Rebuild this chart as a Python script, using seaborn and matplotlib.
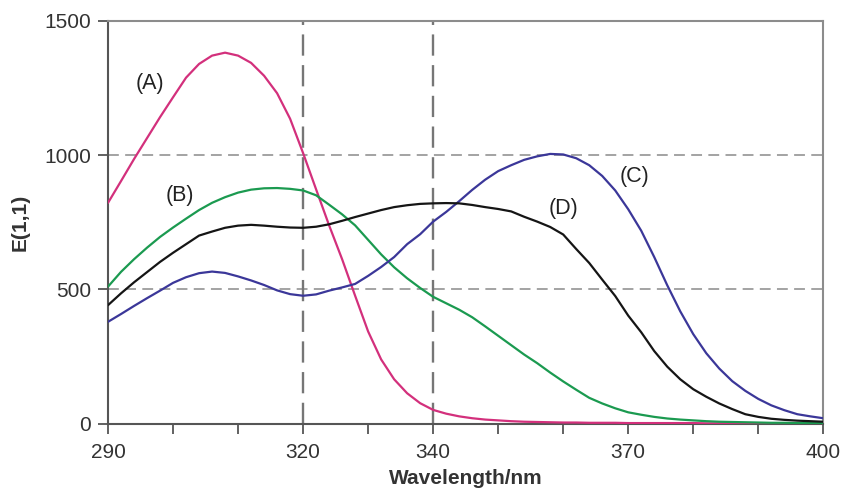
import matplotlib
matplotlib.use("Agg")
import matplotlib.pyplot as plt
import pandas as pd
import seaborn as sns

# Absorption spectra E(1,1) sampled every 2 nm from 290 to 400 nm
wavelength = list(range(290, 401, 2))

curve_a = [822, 903, 985, 1063, 1141, 1215, 1288, 1339, 1370, 1381,
           1370, 1343, 1295, 1230, 1135, 1007, 872, 738, 612, 476,
           343, 239, 165, 113, 76, 51, 37, 27, 20, 15,
           12, 9, 7, 6, 5, 4, 4, 3, 3, 3,
           2, 2, 2, 2, 2, 2, 1, 1, 1, 1,
           1, 1, 1, 1, 1, 1]

curve_b = [510, 565, 612, 655, 695, 730, 763, 795, 822, 843,
           860, 871, 876, 877, 874, 868, 850, 815, 779, 738,
           684, 630, 582, 541, 505, 472, 448, 424, 396, 362,
           327, 292, 257, 225, 190, 157, 126, 96, 75, 57,
           42, 33, 25, 19, 15, 12, 9, 7, 6, 5,
           4, 3, 3, 2, 2, 2]

curve_c = [379, 408, 438, 467, 495, 524, 545, 560, 566, 561,
           548, 533, 516, 496, 482, 476, 481, 495, 507, 520,
           550, 583, 620, 668, 705, 752, 788, 828, 870, 908,
           940, 962, 982, 995, 1004, 1002, 988, 962, 922, 868,
           798, 718, 620, 515, 418, 333, 262, 205, 158, 122,
           92, 68, 50, 35, 27, 20]

curve_d = [441, 485, 526, 564, 602, 636, 668, 700, 715, 729,
           737, 740, 737, 733, 730, 729, 733, 742, 755, 769,
           782, 795, 806, 813, 818, 820, 821, 820, 814, 806,
           799, 790, 770, 752, 732, 704, 650, 598, 536, 475,
           402, 340, 270, 212, 165, 128, 100, 75, 54, 35,
           25, 18, 14, 11, 9, 7]

series_names = ["(A)", "(B)", "(C)", "(D)"]
series_colors = ["#d3307c", "#1b9a50", "#3b3799", "#151515"]

x_ticks = list(range(290, 401, 10))
x_labelled = [290, 320, 340, 370, 400]
y_ticks = [0, 500, 1000, 1500]
ref_wavelengths = [320, 340]
ref_levels = [500, 1000]

frames = []
for name, values in zip(series_names, [curve_a, curve_b, curve_c, curve_d]):
    frames.append(pd.DataFrame({"wavelength": wavelength, "E": values, "series": name}))
spectra = pd.concat(frames, ignore_index=True)

sns.set_theme(style="white")
plt.rcParams["font.family"] = ["Liberation Sans", "DejaVu Sans"]

fig = plt.figure(figsize=(8.42, 4.94), dpi=100)
ax = fig.add_axes([0.1283, 0.1425, 0.8495, 0.8156])

# Reference lines behind the spectra
for level in ref_levels:
    ax.axhline(level, color="#9c9c9c", linewidth=1.3, linestyle=(0, (6, 3.5)), zorder=1)
for wl in ref_wavelengths:
    ax.axvline(wl, color="#767676", linewidth=1.7, linestyle=(0, (9, 4)), zorder=1)

sns.lineplot(
    data=spectra, x="wavelength", y="E", hue="series",
    palette=dict(zip(series_names, series_colors)),
    estimator=None, linewidth=1.6, legend=False, ax=ax, zorder=3,
)

ax.set_xlim(290, 400)
ax.set_ylim(0, 1500)
ax.set_xticks(x_ticks, labels=[str(t) if t in x_labelled else "" for t in x_ticks])
ax.set_yticks(y_ticks, labels=[str(t) for t in y_ticks])
ax.tick_params(axis="both", which="major", direction="out", length=7, width=1.3,
               color="#555555", labelcolor="#333333", labelsize=15, pad=5,
               bottom=True, left=True, top=False, right=False)
ax.tick_params(axis="x", pad=7)

for side in ["left", "bottom"]:
    ax.spines[side].set_color("#555555")
    ax.spines[side].set_linewidth(1.5)
for side in ["top", "right"]:
    ax.spines[side].set_color("#8c8c8c")
    ax.spines[side].set_linewidth(1.5)

ax.set_xlabel("Wavelength/nm", fontsize=15, fontweight="bold", color="#333333", labelpad=5)
ax.set_ylabel("E(1,1)", fontsize=15, fontweight="bold", color="#333333", labelpad=11)

# Curve annotations
label_xy = {"(A)": (296.4, 1267), "(B)": (301.0, 851), "(C)": (371.0, 919), "(D)": (360.0, 801)}
for name in series_names:
    lx, ly = label_xy[name]
    ax.text(lx, ly, name, fontsize=15.5, color="#222222", ha="center", va="center", zorder=4)

fig.savefig("out.png", dpi=100, facecolor="white")
